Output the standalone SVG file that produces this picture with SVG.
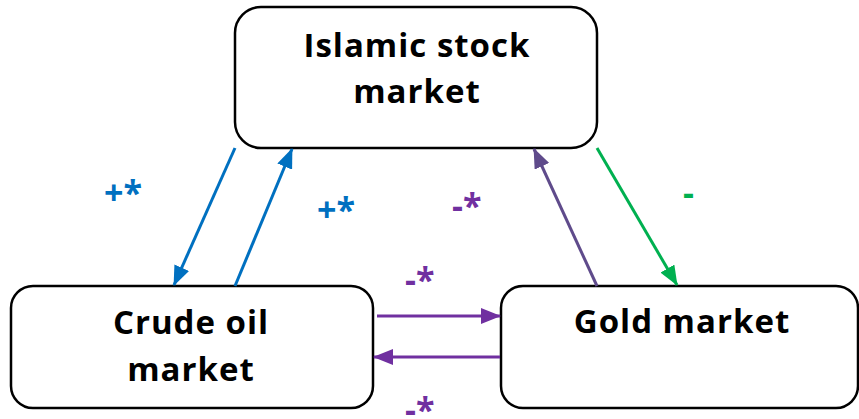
<svg xmlns="http://www.w3.org/2000/svg" width="859" height="419" viewBox="0 0 859 419">
<defs>
<style>
.box{fill:#fff;stroke:#000;stroke-width:2.5}
.t{font-family:"Open Sans",Lato,sans-serif;font-weight:bold;font-size:33px;letter-spacing:1px;fill:#000;text-anchor:middle}
.lbl{font-family:"Open Sans",Lato,sans-serif;font-weight:bold;font-size:34px}
.ln{stroke-width:3;fill:none}
</style>
<marker id="ab" viewBox="0 0 20 16" refX="19" refY="8" markerWidth="20" markerHeight="16" orient="auto" markerUnits="userSpaceOnUse"><path d="M0,0L20,8L0,16z" fill="#0070C0"/></marker>
<marker id="ap" viewBox="0 0 20 16" refX="19" refY="8" markerWidth="20" markerHeight="16" orient="auto" markerUnits="userSpaceOnUse"><path d="M0,0L20,8L0,16z" fill="#7030A0"/></marker>
<marker id="ag" viewBox="0 0 20 16" refX="19" refY="8" markerWidth="20" markerHeight="16" orient="auto" markerUnits="userSpaceOnUse"><path d="M0,0L20,8L0,16z" fill="#00B050"/></marker>
<marker id="av" viewBox="0 0 20 16" refX="19" refY="8" markerWidth="20" markerHeight="16" orient="auto" markerUnits="userSpaceOnUse"><path d="M0,0L20,8L0,16z" fill="#5F4B8B"/></marker>
</defs>
<g id="islamic">
<rect class="box" x="235" y="7" width="362" height="141" rx="26"/>
<text class="t" x="417" y="57">Islamic stock</text>
<text class="t" x="417" y="103">market</text>
</g>
<g id="crude">
<rect class="box" x="11" y="286" width="362" height="122" rx="22"/>
<text class="t" x="191" y="334">Crude oil</text>
<text class="t" x="191" y="381">market</text>
</g>
<g id="gold">
<rect class="box" x="501" y="286" width="357" height="122" rx="22"/>
<text class="t" x="682" y="333">Gold market</text>
</g>
<g id="connectors">
<line class="ln" x1="235" y1="148" x2="174" y2="285" stroke="#0070C0" marker-end="url(#ab)"/>
<line class="ln" x1="235" y1="286" x2="292" y2="149" stroke="#0070C0" marker-end="url(#ab)"/>
<line class="ln" x1="597" y1="286" x2="534" y2="149" stroke="#5F4B8B" marker-end="url(#av)"/>
<line class="ln" x1="597" y1="148" x2="677" y2="285" stroke="#00B050" marker-end="url(#ag)"/>
<line class="ln" x1="377" y1="316" x2="500" y2="316" stroke="#7030A0" marker-end="url(#ap)"/>
<line class="ln" x1="500" y1="357" x2="374" y2="357" stroke="#7030A0" marker-end="url(#ap)"/>
<text class="lbl" x="104" y="205" fill="#0070C0">+*</text>
<text class="lbl" x="317" y="222" fill="#0070C0">+*</text>
<text class="lbl" x="452" y="218" fill="#7030A0">-*</text>
<text class="lbl" x="683" y="205" fill="#00B050">-</text>
<text class="lbl" x="405" y="292" fill="#7030A0">-*</text>
<text class="lbl" x="405" y="422" fill="#7030A0">-*</text>
</g>
</svg>
